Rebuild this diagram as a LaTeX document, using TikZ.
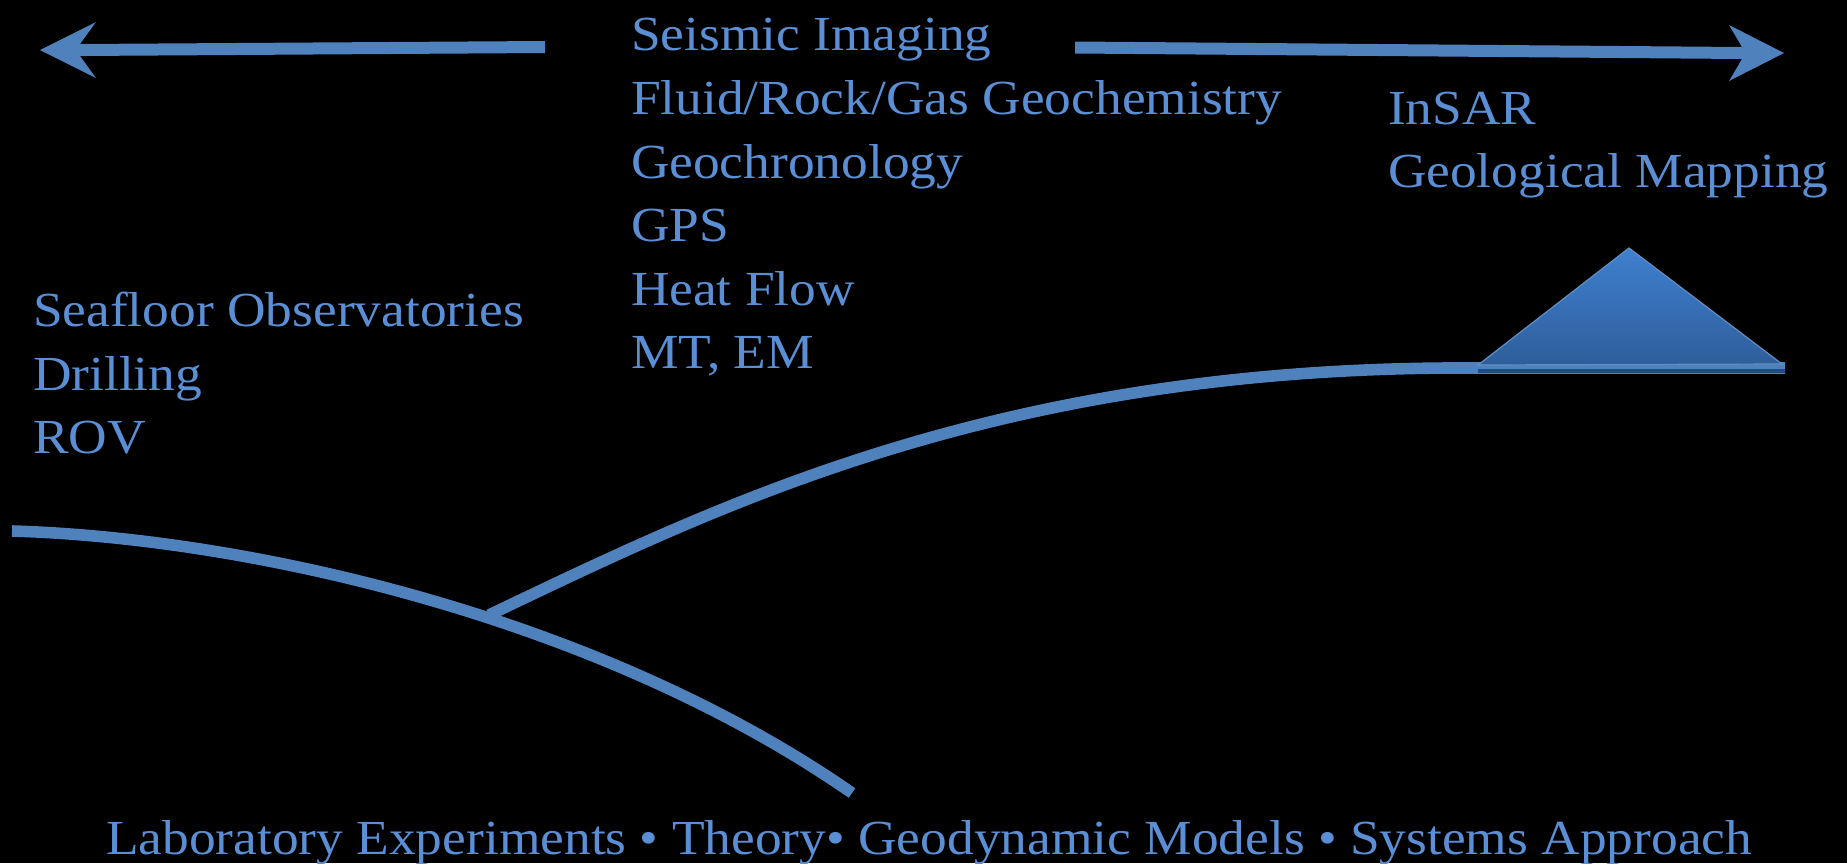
\documentclass[tikz,border=0pt]{standalone}
\usepackage{fontspec}
\setmainfont{Liberation Serif}[FakeStretch=1.09]
\definecolor{lineblue}{HTML}{4F81BD}
\definecolor{textblue}{HTML}{5A8FD6}
\definecolor{tritop}{HTML}{3F80CF}
\definecolor{tribot}{HTML}{2E5E9B}
\begin{document}
\begin{tikzpicture}[x=0.5pt,y=-0.5pt,
  lbl/.style={anchor=base west,inner sep=0pt,outer sep=0pt,text=textblue,font=\fontsize{24.5}{30}\selectfont},
  curve/.style={draw=lineblue,line width=5.8pt,line cap=butt},
  blockarrow/.style={fill=lineblue,draw=none}]
\fill[black] (0,0) rectangle (1847,863);
\path[use as bounding box] (0,0) rectangle (1847,863);
% top arrows
\path[blockarrow] (40,50) -- (96,22) -- (80,44) -- (545,41) -- (545,53) -- (80,56) -- (96,78) -- cycle;
\path[blockarrow] (1075,41.5) -- (1742,47) -- (1729,25) -- (1784,53) -- (1729,81) -- (1742,59) -- (1075,53.5) -- cycle;
% curves
\coordinate (l0) at (12,531);
\coordinate (br) at (489,615);
\coordinate (l1) at (852,793);
\coordinate (u1) at (1478,368);
\coordinate (u2) at (1785,368);
\draw[curve] (l0) .. controls (250,538) and (600,618) .. (l1);
\draw[curve] (br) .. controls (720,505) and (1000,365) .. (u1) -- (u2);
% volcano
\fill[lineblue] (1478,362) rectangle (1785,372);
\fill[tribot!80!black] (1478,369) rectangle (1785,373);
\shade[top color=tritop,bottom color=tribot,draw=lineblue!90!white,line width=0.6pt] (1629,248) -- (1782,364) -- (1478,365) -- cycle;
% middle text
\node[lbl] (t1) at (631,50) {Seismic Imaging};
\node[lbl] (t2) at (631,114) {Fluid/Rock/Gas Geochemistry};
\node[lbl] (t3) at (631,178) {Geochronology};
\node[lbl] (t4) at (631,241) {GPS};
\node[lbl] (t5) at (631,305) {Heat Flow};
\node[lbl] (t6) at (631,368) {MT, EM};
% right text
\node[lbl] (r1) at (1388,124) {InSAR};
\node[lbl] (r2) at (1388,187) {Geological Mapping};
% left text
\node[lbl] (s1) at (33,326) {Seafloor Observatories};
\node[lbl] (s2) at (33,390) {Drilling};
\node[lbl] (s3) at (33,453) {ROV};
% bottom
\node[lbl] (b1) at (106,854) {Laboratory Experiments • Theory• Geodynamic Models • Systems Approach};
\end{tikzpicture}
\end{document}
